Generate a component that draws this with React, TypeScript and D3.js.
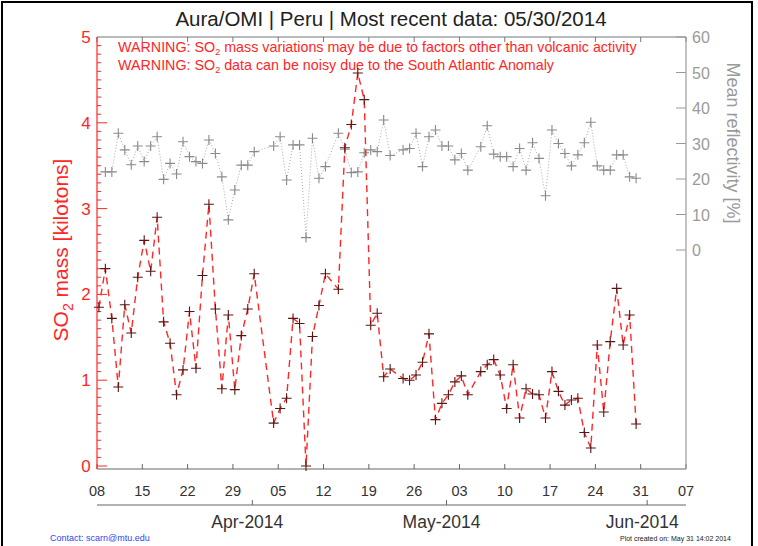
import React, { useRef, useEffect } from 'react';
import * as d3 from 'd3';

// SO2 observations, Peru, Aura/OMI (one per overpass day)
const obsDates = [
  '2014-03-08', '2014-03-09', '2014-03-10', '2014-03-11', '2014-03-12', '2014-03-13', '2014-03-14',
  '2014-03-15', '2014-03-16', '2014-03-17', '2014-03-18', '2014-03-19', '2014-03-20', '2014-03-21',
  '2014-03-22', '2014-03-23', '2014-03-24', '2014-03-25', '2014-03-26', '2014-03-27', '2014-03-28',
  '2014-03-29', '2014-03-30', '2014-03-31', '2014-04-01',
  '2014-04-04', '2014-04-05', '2014-04-06', '2014-04-07', '2014-04-08', '2014-04-09', '2014-04-10',
  '2014-04-11', '2014-04-12',
  '2014-04-14', '2014-04-15', '2014-04-16', '2014-04-17', '2014-04-18', '2014-04-19', '2014-04-20',
  '2014-04-21', '2014-04-22',
  '2014-04-24', '2014-04-25', '2014-04-26', '2014-04-27', '2014-04-28', '2014-04-29', '2014-04-30',
  '2014-05-01', '2014-05-02', '2014-05-03', '2014-05-04',
  '2014-05-06', '2014-05-07', '2014-05-08', '2014-05-09', '2014-05-10', '2014-05-11', '2014-05-12',
  '2014-05-13', '2014-05-14', '2014-05-15', '2014-05-16', '2014-05-17', '2014-05-18', '2014-05-19',
  '2014-05-20', '2014-05-21', '2014-05-22', '2014-05-23', '2014-05-24', '2014-05-25', '2014-05-26',
  '2014-05-27', '2014-05-28', '2014-05-29', '2014-05-30',
];

// SO2 mass [kilotons]
const so2Mass = [
  1.85, 2.30, 1.72, 0.92, 1.88, 1.55, 2.20, 2.63, 2.27, 2.90, 1.68, 1.43, 0.83, 1.12,
  1.80, 1.14, 2.22, 3.05, 1.83, 0.90, 1.76, 0.89, 1.52, 1.83, 2.24,
  0.50, 0.67, 0.79, 1.72, 1.66, 0.00, 1.51, 1.87, 2.24,
  2.06, 3.71, 3.98, 4.58, 4.27, 1.64, 1.78, 1.04, 1.13,
  1.02, 1.00, 1.06, 1.21, 1.54, 0.54, 0.73, 0.83, 0.98, 1.05, 0.83,
  1.10, 1.18, 1.24, 1.06, 0.67, 1.18, 0.56, 0.90, 0.84, 0.83, 0.56, 1.10, 0.87, 0.71,
  0.77, 0.79, 0.39, 0.21, 1.41, 0.63, 1.45, 2.07, 1.41, 1.76, 0.49,
];

// Mean reflectivity [%]
const reflectivity: (number | null)[] = [
  null, 22, 22, 32.9, 28.2, 24, 29.3, 24.9, 29.3, 31.9, 19.9, 24.4, 21.4, 30.5,
  26.3, 24.9, 24.4, 31, 27.2, 20.6, 8.5, 16.9, 23.9, 23.9, 27.7,
  29.3, 31.9, 19.7, 29.6, 29.6, 3.5, 31.5, 20.2, 23.5,
  32.9, 28.4, 21.8, 22, 27.4, 28.2, 27.7, 36.6, 26.6,
  28.2, 28.6, 32.9, 23.5, 31.9, 33.8, 29.3, 29.3, 25.4, 27.2, 22.5,
  29.1, 35, 27, 26.3, 26.3, 23.5, 28.6, 22.5, 30.2, 25.8, 15.3, 33.8, 30, 27.2,
  23.7, 26.8, 30.2, 36, 23.7, 22.5, 22.5, 26.8, 26.8, 20.6, 20.2,
];

const so2Ticks = [0, 1, 2, 3, 4, 5];
const reflTicks = [0, 10, 20, 30, 40, 50, 60];
const monthTicks = ['2014-04-01', '2014-05-01', '2014-06-01'];

const RED = '#ff2626';
const GREY = '#9a9a9a';
const FONT = '"Liberation Sans", Arial, Helvetica, sans-serif';

const App: React.FC = () => {
  const svgRef = useRef<SVGSVGElement>(null);

  useEffect(() => {
    if (!svgRef.current) return;
    document.body.style.margin = '0';
    const width = 758;
    const height = 546;

    const svg = d3.select(svgRef.current);
    svg.selectAll('*').remove();
    svg.attr('width', width).attr('height', height).style('font-family', FONT).style('background', '#fff');

    const left = 97, right = 686, top = 37, bottom = 469;
    const parse = d3.utcParse('%Y-%m-%d');
    const start = parse('2014-03-08')!;
    const end = parse('2014-06-07')!;
    // points sit a few hours into each day
    const obsTime = (s: string) => d3.utcHour.offset(parse(s)!, 7);

    const x = d3.scaleUtc().domain([start, end]).range([left, right]);
    const y = d3.scaleLinear().domain([0, 5]).range([466, top]);
    const yR = d3.scaleLinear().domain([0, 60]).range([250, top]);

    // outer frame
    svg.append('rect')
      .attr('x', 2).attr('y', 2).attr('width', 750).attr('height', 600)
      .attr('fill', 'none').attr('stroke', '#000').attr('stroke-width', 2);

    // title
    svg.append('text')
      .attr('x', 391).attr('y', 26)
      .attr('text-anchor', 'middle')
      .style('font-size', '20.5px')
      .style('fill', '#222')
      .text('Aura/OMI | Peru | Most recent data: 05/30/2014');

    const weeks = d3.range(0, 14).map(i => d3.utcDay.offset(start, 7 * i));

    // top and bottom axes
    svg.append('line').attr('x1', left).attr('x2', right).attr('y1', top).attr('y2', top)
      .attr('stroke', '#777').attr('stroke-width', 1.2);
    svg.append('line').attr('x1', left).attr('x2', right).attr('y1', bottom).attr('y2', bottom)
      .attr('stroke', '#666').attr('stroke-width', 1.2);
    svg.append('g').selectAll('line').data(weeks).join('line')
      .attr('x1', d => x(d)).attr('x2', d => x(d)).attr('y1', top).attr('y2', top + 5)
      .attr('stroke', '#777');
    svg.append('g').selectAll('line').data(weeks).join('line')
      .attr('x1', d => x(d)).attr('x2', d => x(d)).attr('y1', bottom).attr('y2', bottom - 5)
      .attr('stroke', '#666');
    svg.append('g').selectAll('text').data(weeks).join('text')
      .attr('x', d => x(d)).attr('y', 496)
      .attr('text-anchor', 'middle')
      .style('font-size', '14.5px').style('fill', '#333')
      .text(d => d3.utcFormat('%d')(d));

    // month axis
    svg.append('line').attr('x1', left).attr('x2', right).attr('y1', 505).attr('y2', 505)
      .attr('stroke', '#666').attr('stroke-width', 1.2);
    svg.append('g').selectAll('line').data(monthTicks).join('line')
      .attr('x1', d => x(parse(d)!)).attr('x2', d => x(parse(d)!))
      .attr('y1', 505).attr('y2', 500)
      .attr('stroke', '#666');
    svg.append('g').selectAll('text').data(monthTicks).join('text')
      .attr('x', d => x(parse(d)!) - 5).attr('y', 528)
      .attr('text-anchor', 'middle')
      .style('font-size', '17.5px').style('fill', '#333')
      .text(d => d3.utcFormat('%b-%Y')(parse(d)!));

    // left axis (SO2 mass)
    svg.append('line').attr('x1', left).attr('x2', left).attr('y1', top).attr('y2', bottom)
      .attr('stroke', RED).attr('stroke-width', 1.2);
    svg.append('g').selectAll('line').data(d3.range(0, 50).map(i => i / 10)).join('line')
      .attr('x1', left).attr('x2', d => left + (Math.abs(d - Math.round(d)) < 1e-6 ? 10 : 4))
      .attr('y1', d => y(d)).attr('y2', d => y(d))
      .attr('stroke', RED);
    svg.append('g').selectAll('text').data(so2Ticks).join('text')
      .attr('x', 86).attr('y', d => y(d) + 6)
      .attr('text-anchor', 'middle')
      .style('font-size', '17px').style('fill', RED)
      .text(d => d);
    const yl = svg.append('text')
      .attr('transform', 'translate(68,250) rotate(-90)')
      .attr('text-anchor', 'middle')
      .style('font-size', '21px').style('fill', RED);
    yl.append('tspan').text('SO');
    yl.append('tspan').attr('dy', 5).style('font-size', '14px').text('2');
    yl.append('tspan').attr('dy', -5).text(' mass [kilotons]');

    // right axis (reflectivity)
    svg.append('line').attr('x1', right).attr('x2', right).attr('y1', top).attr('y2', bottom)
      .attr('stroke', GREY).attr('stroke-width', 1.2);
    svg.append('g').selectAll('line').data(reflTicks).join('line')
      .attr('x1', right).attr('x2', right - 10)
      .attr('y1', d => yR(d)).attr('y2', d => yR(d))
      .attr('stroke', GREY);
    svg.append('g').selectAll('text').data(reflTicks).join('text')
      .attr('x', 692).attr('y', d => yR(d) + 6)
      .style('font-size', '16px').style('fill', GREY)
      .text(d => d);
    svg.append('text')
      .attr('transform', 'translate(727,143) rotate(90)')
      .attr('text-anchor', 'middle')
      .style('font-size', '18px').style('fill', GREY)
      .text('Mean reflectivity [%]');

    // warnings
    const warn = (yy: number, rest: string) => {
      const t = svg.append('text').attr('x', 118).attr('y', yy)
        .style('font-size', '14.3px').style('fill', RED);
      t.append('tspan').text('WARNING: SO');
      t.append('tspan').attr('dy', 3).style('font-size', '9px').text('2');
      t.append('tspan').attr('dy', -3).text(rest);
    };
    warn(52, ' mass variations may be due to factors other than volcanic activity');
    warn(70, ' data can be noisy due to the South Atlantic Anomaly');

    const cross = (g: d3.Selection<SVGGElement, unknown, null, undefined>, pts: [number, number][], color: string) => {
      g.selectAll('path').data(pts).join('path')
        .attr('d', d => `M${d[0] - 5},${d[1]}H${d[0] + 5}M${d[0]},${d[1] - 5}V${d[1] + 5}`)
        .attr('stroke', color).attr('stroke-width', 1.1).attr('fill', 'none');
    };

    // reflectivity series (dotted)
    const reflPts: [number, number][] = [];
    obsDates.forEach((d, i) => {
      const r = reflectivity[i];
      if (r !== null) reflPts.push([x(obsTime(d)), yR(r)]);
    });
    svg.append('path')
      .attr('d', d3.line()(reflPts))
      .attr('fill', 'none').attr('stroke', '#aaa').attr('stroke-width', 1)
      .attr('stroke-dasharray', '1,2');
    cross(svg.append('g'), reflPts, '#8a8a8a');

    // SO2 series (dashed)
    const so2Pts: [number, number][] = obsDates.map((d, i) => [x(obsTime(d)), y(so2Mass[i])]);
    svg.append('path')
      .attr('d', d3.line()(so2Pts))
      .attr('fill', 'none').attr('stroke', RED).attr('stroke-width', 1.4)
      .attr('stroke-dasharray', '7,5');
    cross(svg.append('g'), so2Pts, '#5a1414');

    // footer
    svg.append('text').attr('x', 50).attr('y', 541)
      .style('font-size', '9px').style('fill', '#3344ee')
      .text('Contact: scarn@mtu.edu');
    svg.append('text').attr('x', 620).attr('y', 541)
      .style('font-size', '7px').style('fill', '#222')
      .text('Plot created on: May 31 14:02 2014');
  }, []);

  return <svg ref={svgRef} style={{ display: 'block' }} />;
};

export default App;
